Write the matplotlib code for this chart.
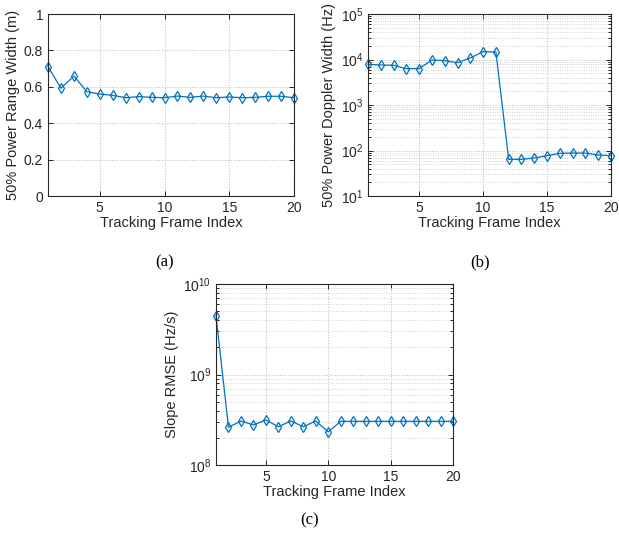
import matplotlib
matplotlib.use("Agg")
import matplotlib.pyplot as plt
import numpy as np
from matplotlib.ticker import LogLocator, NullFormatter, FixedLocator

plt.rcParams['font.family'] = ['Liberation Sans', 'DejaVu Sans']
plt.rcParams['mathtext.default'] = 'regular'

frames = list(range(1, 21))
range_width = [0.711, 0.592, 0.659, 0.573, 0.560, 0.553, 0.540, 0.546, 0.542, 0.540,
               0.549, 0.542, 0.549, 0.540, 0.544, 0.540, 0.542, 0.548, 0.548, 0.540]
doppler_width = [7830, 7570, 7440, 6290, 6290, 9750, 9420, 8510, 10800, 14860,
                 14600, 64, 64, 68.4, 77, 86.6, 88, 88, 79.6, 77]
slope_rmse = [4.47e9, 2.61e8, 3.06e8, 2.77e8, 3.14e8, 2.65e8, 3.06e8, 2.65e8, 3.06e8, 2.32e8,
              3.04e8, 3.04e8, 3.04e8, 3.04e8, 3.04e8, 3.04e8, 3.04e8, 3.04e8, 3.04e8, 3.04e8]

xticks = [5, 10, 15, 20]
color = '#0072BD'

fig = plt.figure(figsize=(6.19, 5.44), dpi=100)
W, H = 619, 544

def add_ax(l, r, t, b):
    return fig.add_axes([l / W, 1 - b / H, (r - l) / W, (b - t) / H])

def style(ax, logy=False):
    ax.set_xlim(1, 20)
    ax.xaxis.set_major_locator(FixedLocator(xticks))
    ax.tick_params(which='both', direction='in', top=True, right=True,
                   labelsize=10, length=3.5, width=0.7, color='#262626', labelcolor='#262626')
    ax.tick_params(which='minor', length=2)
    for s in ax.spines.values():
        s.set_linewidth(0.8)
        s.set_color('#262626')
    ax.grid(True, which='major', color='#c0c0c0', linestyle=':', linewidth=0.75)
    if logy:
        ax.set_yscale('log')
        ax.yaxis.set_minor_locator(LogLocator(base=10, subs=np.arange(2, 10), numticks=20))
        ax.yaxis.set_minor_formatter(NullFormatter())
        ax.grid(True, which='minor', axis='y', color='#cccccc', linestyle=':', linewidth=0.65)
    ax.set_axisbelow(True)

def plot_series(ax, y):
    ax.plot(frames, y, color=color, linewidth=0.9, marker='d', markersize=5.5,
            markerfacecolor='none', markeredgecolor=color, markeredgewidth=0.9,
            clip_on=False)

lab_kw = dict(fontsize=10.5, color='#262626')

# (a)
ax1 = add_ax(48, 294, 14, 196)
style(ax1)
plot_series(ax1, range_width)
ax1.set_ylim(0, 1)
ax1.set_yticks([0, 0.2, 0.4, 0.6, 0.8, 1])
ax1.set_yticklabels(['0', '0.2', '0.4', '0.6', '0.8', '1'])
ax1.set_xlabel('Tracking Frame Index', labelpad=1, **lab_kw)
ax1.set_ylabel('50% Power Range Width (m)', labelpad=3, **lab_kw)

# (b)
ax2 = add_ax(368, 611, 14, 196)
style(ax2, logy=True)
plot_series(ax2, doppler_width)
ax2.set_ylim(10, 1e5)
ax2.set_xlabel('Tracking Frame Index', labelpad=1, **lab_kw)
ax2.set_ylabel('50% Power Doppler Width (Hz)', labelpad=3, **lab_kw)

# (c)
ax3 = add_ax(216, 453, 284, 465)
style(ax3, logy=True)
plot_series(ax3, slope_rmse)
ax3.set_ylim(1e8, 1e10)
ax3.set_xlabel('Tracking Frame Index', labelpad=1, **lab_kw)
ax3.set_ylabel('Slope RMSE (Hz/s)', labelpad=3, **lab_kw)

cap_kw = dict(fontsize=12, family=['Liberation Serif', 'DejaVu Serif'], ha='center', va='center')
fig.text(165 / W, 1 - 262 / H, '(a)', **cap_kw)
fig.text(480 / W, 1 - 262 / H, '(b)', **cap_kw)
fig.text(310 / W, 1 - 520 / H, '(c)', **cap_kw)

fig.savefig('out.png', dpi=100)
